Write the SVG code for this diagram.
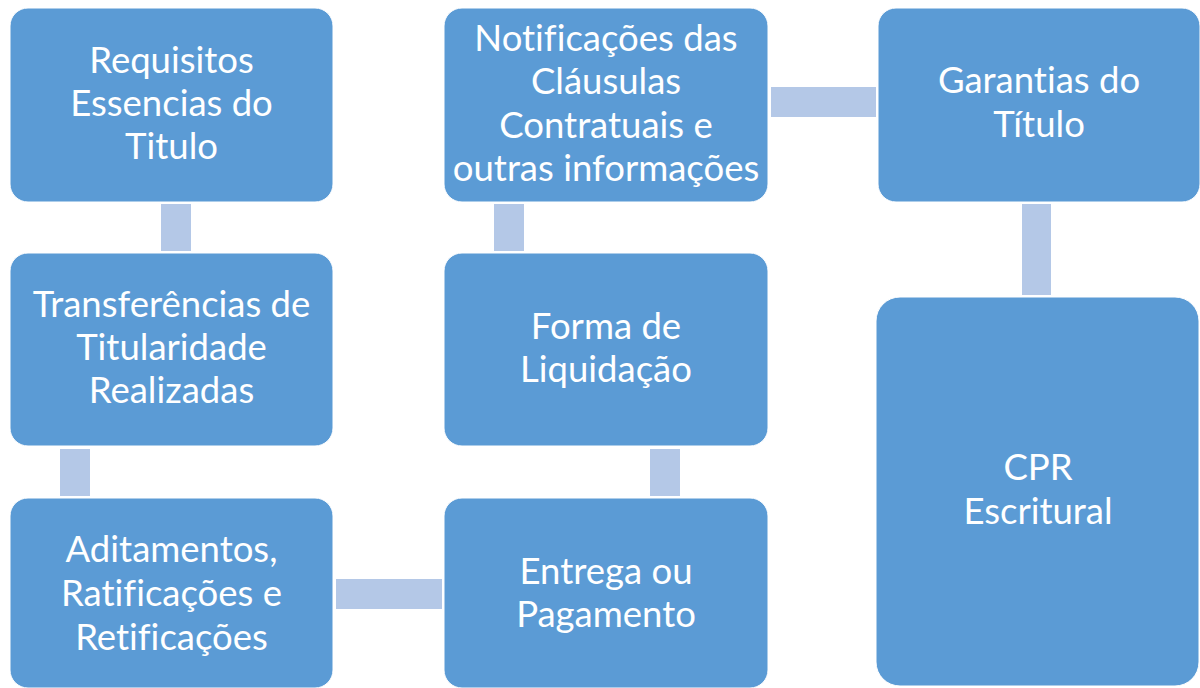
<svg xmlns="http://www.w3.org/2000/svg" width="1200" height="688" viewBox="0 0 1200 688">
<style>
.n{fill:#5B9BD5;stroke:#ffffff;stroke-width:1}
.c{fill:#B4C8E7}
.t{font-family:Lato,"Open Sans",sans-serif;font-size:36.5px;fill:#ffffff;text-anchor:middle;font-variant-ligatures:none;font-feature-settings:"liga" 0}
</style>
<rect width="1200" height="688" fill="#ffffff"/>
<g id="connectors">
<rect class="c" x="161" y="204" width="30" height="47"/>
<rect class="c" x="60" y="449" width="30" height="47"/>
<rect class="c" x="336" y="579" width="106" height="30"/>
<rect class="c" x="650" y="449" width="30" height="47"/>
<rect class="c" x="494" y="204" width="30" height="47"/>
<rect class="c" x="771" y="87" width="105" height="30"/>
<rect class="c" x="1022" y="204" width="29" height="91"/>
</g>
<g id="n1"><rect class="n" x="10" y="8" width="323" height="194" rx="18"/>
<text class="t" x="171.5" y="73">Requisitos</text><text class="t" x="171.5" y="116">Essencias do</text><text class="t" x="171.5" y="159">Titulo</text></g>
<g id="n2"><rect class="n" x="10" y="253" width="323" height="193" rx="18"/>
<text class="t" x="171.5" y="317">Transferências de</text><text class="t" x="171.5" y="360">Titularidade</text><text class="t" x="171.5" y="403">Realizadas</text></g>
<g id="n3"><rect class="n" x="10" y="498" width="323" height="190" rx="18"/>
<text class="t" x="171.5" y="562">Aditamentos,</text><text class="t" x="171.5" y="606">Ratificações e</text><text class="t" x="171.5" y="650">Retificações</text></g>
<g id="n4"><rect class="n" x="444" y="498" width="324" height="190" rx="18"/>
<text class="t" x="606" y="584">Entrega ou</text><text class="t" x="606" y="627">Pagamento</text></g>
<g id="n5"><rect class="n" x="444" y="253" width="324" height="193" rx="18"/>
<text class="t" x="606" y="339">Forma de</text><text class="t" x="606" y="382">Liquidação</text></g>
<g id="n6"><rect class="n" x="444" y="8" width="324" height="194" rx="18"/>
<text class="t" x="606" y="51">Notificações das</text><text class="t" x="606" y="94">Cláusulas</text><text class="t" x="606" y="138">Contratuais e</text><text class="t" x="606" y="181">outras informações</text></g>
<g id="n7"><rect class="n" x="878" y="8" width="322" height="194" rx="18"/>
<text class="t" x="1039" y="93">Garantias do</text><text class="t" x="1039" y="137">Título</text></g>
<g id="n8"><rect class="n" x="876" y="297" width="323" height="389" rx="24"/>
<text class="t" x="1038" y="480">CPR</text><text class="t" x="1038" y="524">Escritural</text></g>
</svg>
